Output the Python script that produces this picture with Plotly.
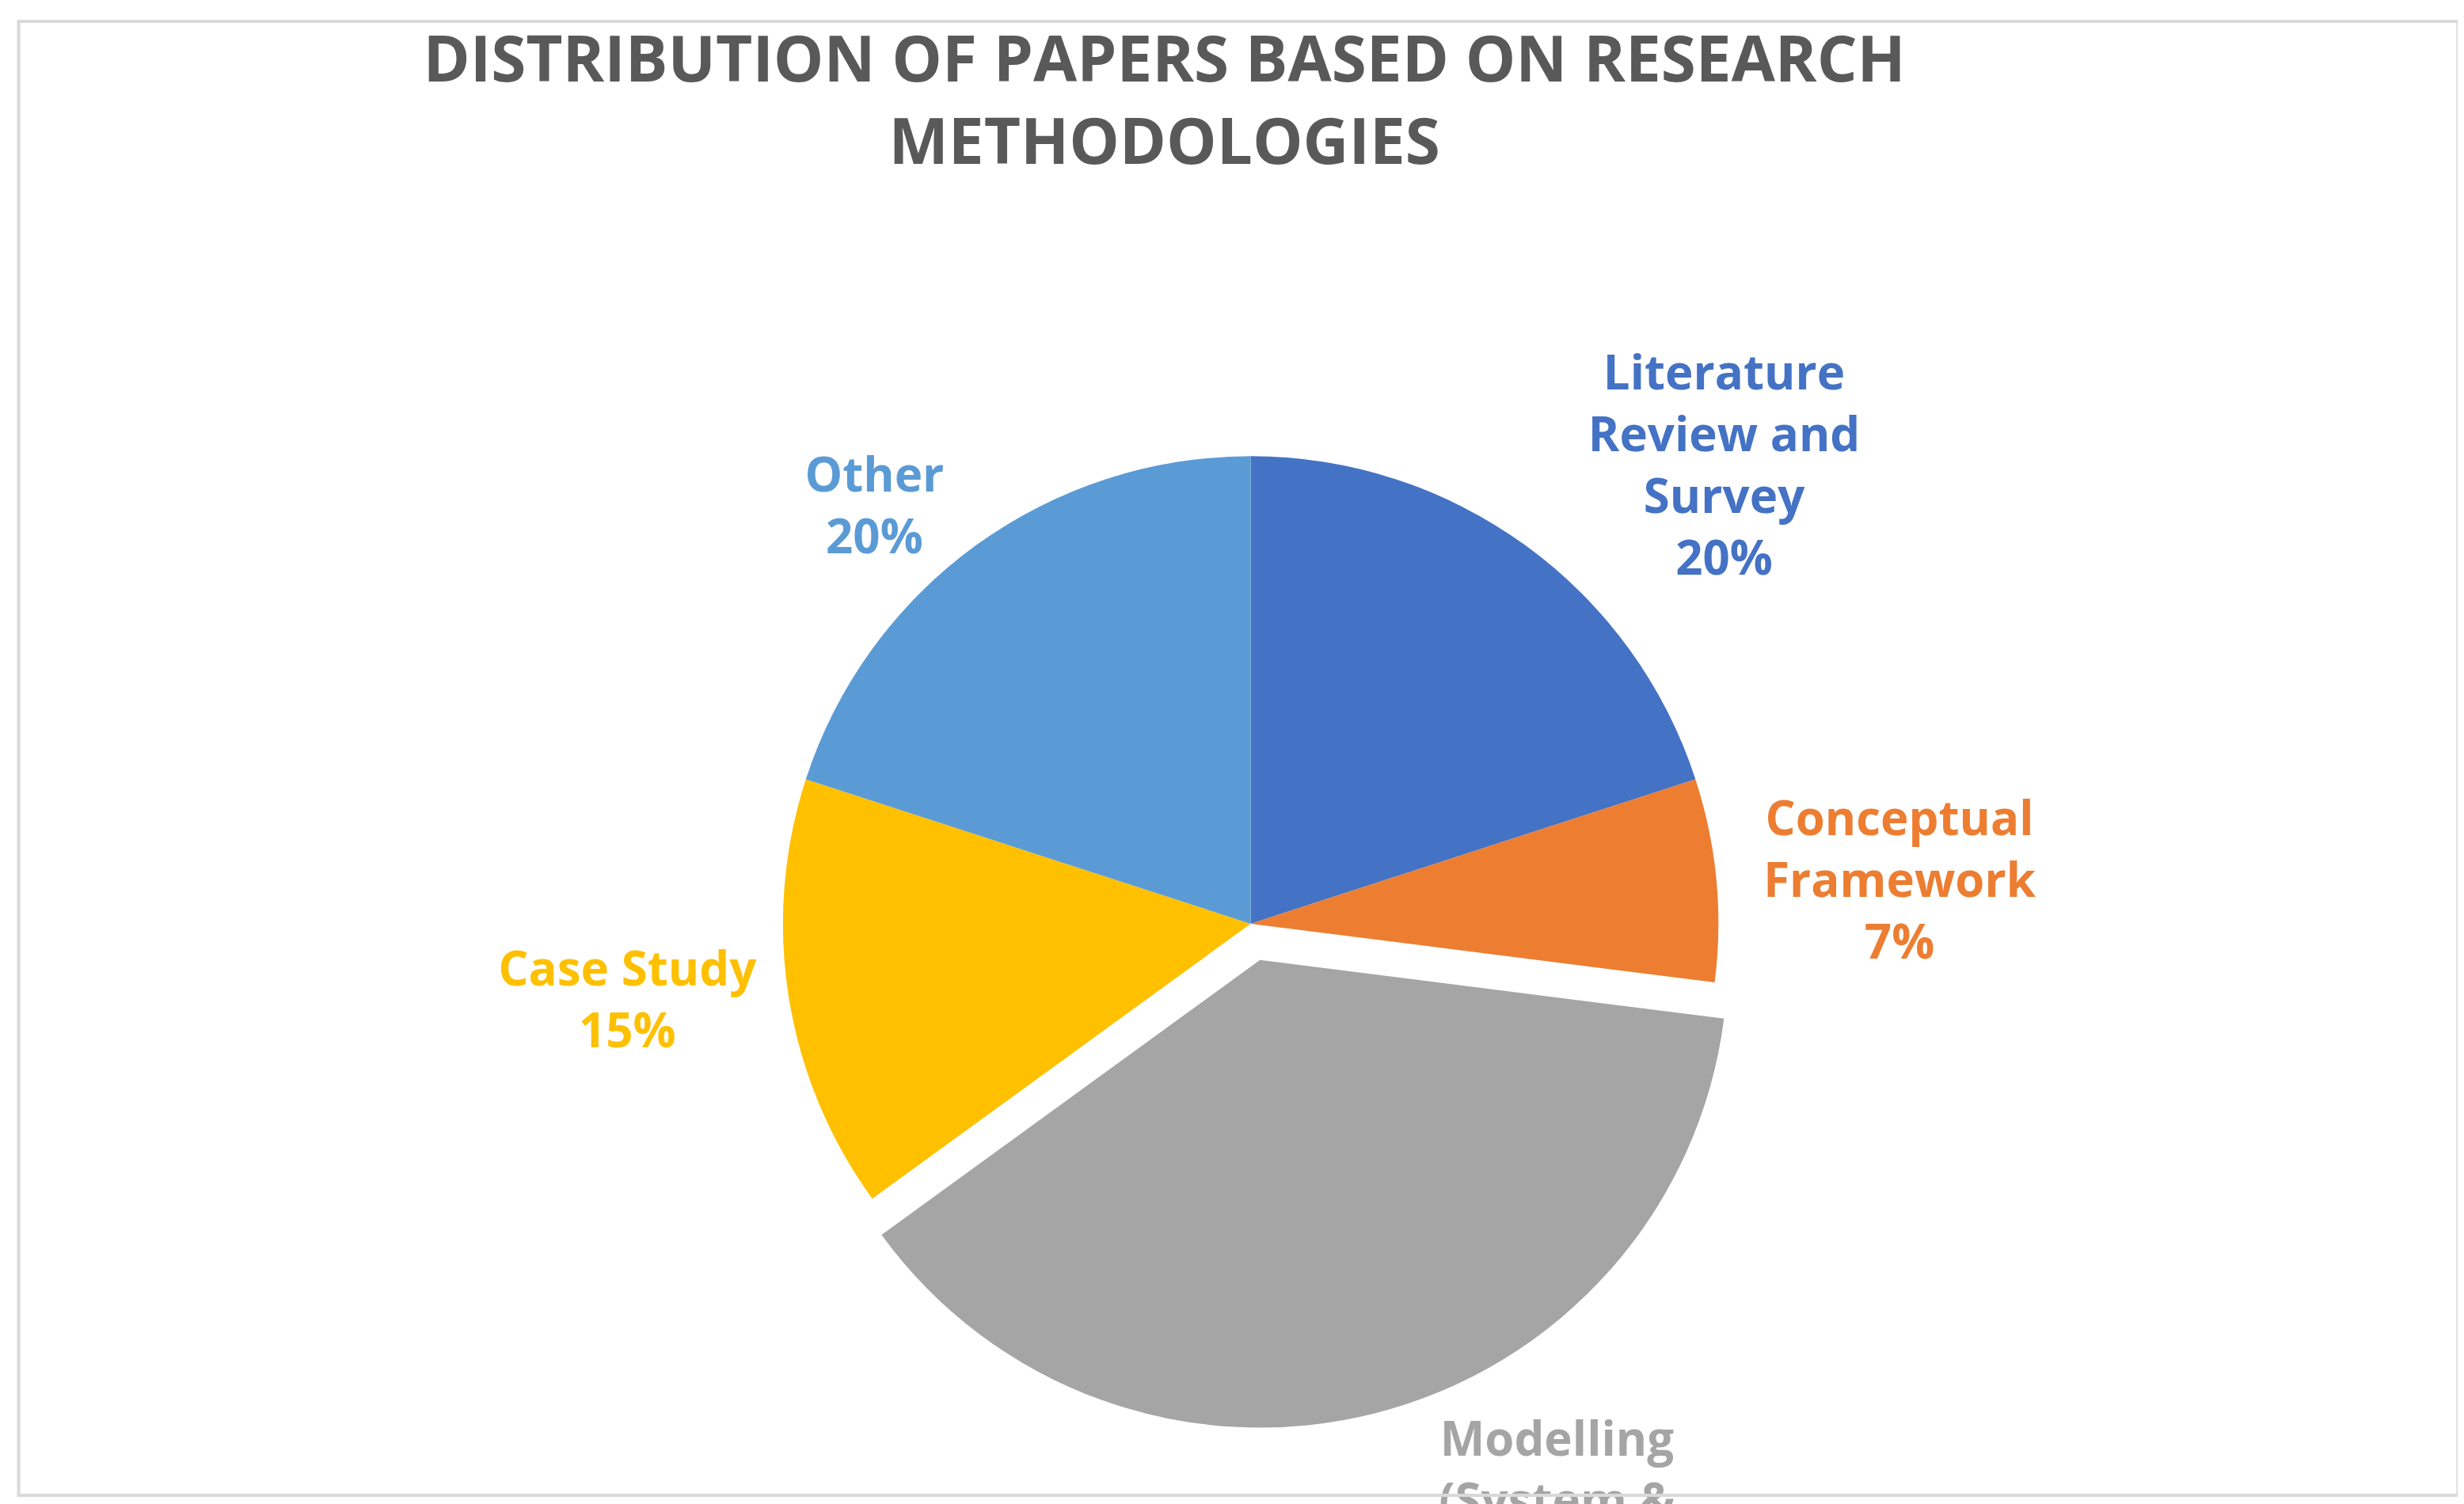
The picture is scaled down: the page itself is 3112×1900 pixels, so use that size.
import plotly.graph_objects as go

labels = ["Literature Review and Survey", "Conceptual Framework", "Modelling (System & Platform)", "Case Study", "Other"]
label_text = ["Literature<br>Review and<br>Survey", "Conceptual<br>Framework", "Modelling<br>(System &<br>Platform)", "Case Study", "Other"]
values = [20, 7, 38, 15, 20]
colors = ["#4472C4", "#ED7D31", "#A5A5A5", "#FFC000", "#5B9BD5"]
pulls = [0, 0, 0.08, 0, 0]

fig = go.Figure(go.Pie(
    labels=labels, values=values, text=label_text, sort=False, direction="clockwise", rotation=0,
    marker=dict(colors=colors), pull=pulls, automargin=False,
    textinfo="text+percent", texttemplate="%{text}<br>%{percent:.0%}",
    textposition="outside",
    showlegend=False, domain=dict(x=[0.3, 0.71], y=[0.04, 0.74]),
))

fig.update_layout(
    width=3112, height=1900, paper_bgcolor="white",
    margin=dict(l=0, r=0, t=0, b=0, autoexpand=False),
    title=dict(text="<b>DISTRIBUTION OF PAPERS BASED ON RESEARCH<br>METHODOLOGIES</b>", x=0.47, xanchor="center",
               y=0.95, yanchor="top", font=dict(size=80, color="#595959", family="Open Sans")),
    font=dict(family="Open Sans"),
    shapes=[dict(type="rect", xref="paper", yref="paper", x0=0.005, x1=0.995, y0=0.01, y1=0.99,
                 line=dict(color="#D9D9D9", width=4))],
)
fig.update_traces(outsidetextfont=dict(size=60, color=colors, family="Open Sans", weight="bold"))

fig.write_html("out.html")
